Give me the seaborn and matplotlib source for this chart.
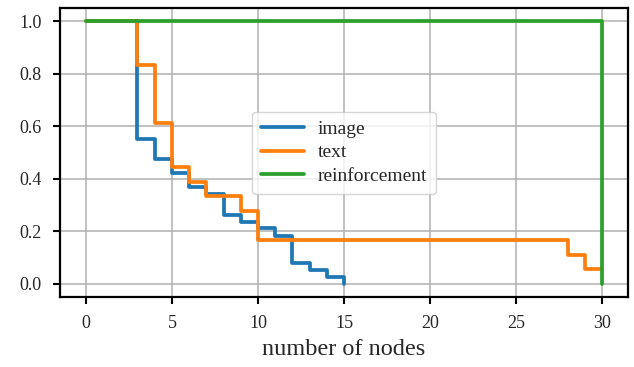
import matplotlib
matplotlib.use("Agg")
import matplotlib.pyplot as plt
import seaborn as sns
import pandas as pd

image_x = [0, 3, 4, 5, 6, 7, 8, 9, 10, 11, 12, 13, 14, 15]
image_y = [1.0, 0.553, 0.474, 0.421, 0.368, 0.342, 0.263, 0.237, 0.211, 0.184, 0.079, 0.053, 0.026, 0.0]

text_x = [0, 3, 4, 5, 6, 7, 9, 10, 28, 29, 30]
text_y = [1.0, 0.833, 0.611, 0.444, 0.389, 0.333, 0.278, 0.167, 0.111, 0.056, 0.056]

reinf_x = [0, 30]
reinf_y = [1.0, 0.0]

xticks = [0, 5, 10, 15, 20, 25, 30]
yticks = [0.0, 0.2, 0.4, 0.6, 0.8, 1.0]

sns.set_style("ticks")
plt.rcParams['font.family'] = ['Liberation Serif', 'DejaVu Serif']

fig = plt.figure(figsize=(6.34, 3.67), dpi=100)
ax = fig.add_axes([60/634, 1 - 297/367, (628-60)/634, (297-8)/367])

frames = []
for name, xs, ys in [("image", image_x, image_y), ("text", text_x, text_y), ("reinforcement", reinf_x, reinf_y)]:
    frames.append(pd.DataFrame({"x": xs, "y": ys, "method": name}))
df = pd.concat(frames, ignore_index=True)

palette = {"image": "#1f77b4", "text": "#ff7f0e", "reinforcement": "#2ca02c"}
sns.lineplot(data=df, x="x", y="y", hue="method", palette=palette, ax=ax,
             drawstyle="steps-post", linewidth=2.7, sort=False, estimator=None)

ax.set_xlim(-1.5, 31.5)
ax.set_ylim(-0.05, 1.05)
ax.set_xticks(xticks)
ax.set_yticks(yticks)
ax.set_xticklabels([str(t) for t in xticks])
ax.set_yticklabels([f"{t:.1f}" for t in yticks])
ax.grid(True, color="#b0b0b0", linewidth=1.1)
ax.set_axisbelow(True)
for s in ax.spines.values():
    s.set_visible(True)
    s.set_color("black")
    s.set_linewidth(1.6)
ax.tick_params(axis="both", direction="out", length=5, width=1.5, color="black",
               labelsize=13, pad=8)
ax.set_xlabel("number of nodes", fontsize=17.5, labelpad=5)
ax.set_ylabel("")
leg = ax.legend(loc="center", fontsize=14, frameon=True, framealpha=0.8,
                edgecolor="#cccccc", fancybox=True, borderpad=0.45,
                handlelength=2.2, handletextpad=0.7, labelspacing=0.3)
for line in leg.get_lines():
    line.set_linewidth(2.7)

fig.savefig("out.png", dpi=100)
